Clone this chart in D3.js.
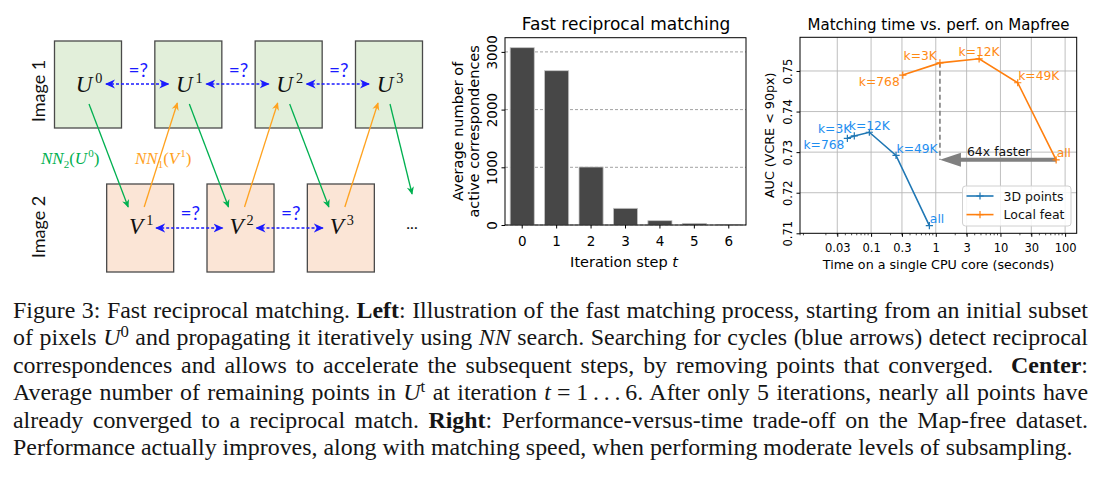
<!DOCTYPE html>
<html>
<head>
<meta charset="utf-8">
<script src="https://cdn.jsdelivr.net/npm/d3@7"></script>
<style>
  body { margin: 0; background: #fff; }
  #wrap { position: relative; width: 1100px; height: 478px; overflow: hidden; }
  #wrap svg { position: absolute; left: 0; top: 0; }
  #caption { position: absolute; left: 13px; top: 297px; width: 1075px; color: #151515;
             font-family: "Liberation Serif", "Times New Roman", serif; line-height: 27.4px; }
  #caption div { text-align: justify; text-align-last: justify; white-space: normal; }
  #caption div.last { text-align-last: left; }
  #caption sup { font-size: 0.7em; line-height: 0; vertical-align: 0.5em; }
</style>
</head>
<body>
<div id="wrap"></div>
<script>
// ---------- data ----------
var topSup = ["0", "1", "2", "3"];          // U^0 .. U^3
var botSup = ["1", "2", "3"];               // V^1 .. V^3

var iterSteps = [0, 1, 2, 3, 4, 5, 6];
var activeCorr = [3073, 2674, 1005, 289, 75, 28, 6];
var barYTicks = [0, 1000, 2000, 3000];

var seriesNames = ["3D points", "Local feat"];
var kLabels = ["k=768", "k=3K", "k=12K", "k=49K", "all"];
var time3D = [0.043, 0.055, 0.094, 0.243, 0.796];
var auc3D = [0.7334, 0.7340, 0.7349, 0.7292, 0.7119];
var timeLocal = [0.309, 1.16, 4.68, 18.5, 72.6];
var aucLocal = [0.7490, 0.7520, 0.7530, 0.7471, 0.7281];
var timeTicks = [0.03, 0.1, 0.3, 1, 3, 10, 30, 100];
var timeTickLabels = ["0.03", "0.1", "0.3", "1", "3", "10", "30", "100"];
var aucTicks = [0.71, 0.72, 0.73, 0.74, 0.75];

var captionLines = [
  'Figure 3: Fast reciprocal matching. <b>Left</b>: Illustration of the fast matching process, starting from an initial subset',
  'of pixels <i>U</i><sup>0</sup> and propagating it iteratively using <i>NN</i> search. Searching for cycles (blue arrows) detect reciprocal',
  'correspondences and allows to accelerate the subsequent steps, by removing points that converged.&nbsp; <b>Center</b>:',
  'Average number of remaining points in <i>U</i><sup>t</sup> at iteration <i>t</i>&#8197;=&#8197;1&#8201;.&#8201;.&#8201;.&#8201;6. After only 5 iterations, nearly all points have',
  'already converged to a reciprocal match. <b>Right</b>: Performance-versus-time trade-off on the Map-free dataset.',
  'Performance actually improves, along with matching speed, when performing moderate levels of subsampling.'
];

// ---------- setup ----------
var FONT = '"DejaVu Sans", sans-serif';
var MATH = '"Liberation Serif", "DejaVu Serif", serif';
var svg = d3.select('#wrap').append('svg').attr('width', 1100).attr('height', 478);
var defs = svg.append('defs');

function arrowMarker(id, color, w, h) {
  defs.append('marker')
    .attr('id', id)
    .attr('viewBox', '0 0 10 10')
    .attr('refX', 9).attr('refY', 5)
    .attr('markerWidth', w).attr('markerHeight', h)
    .attr('markerUnits', 'userSpaceOnUse')
    .attr('orient', 'auto-start-reverse')
    .append('path')
    .attr('d', 'M0,0.5 L10,5 L0,9.5 L3,5 z')
    .attr('fill', color);
}
var BLUE = '#1a1aff', GREEN = '#00b050', ORANGE = '#ffa21f';
arrowMarker('mBlue', BLUE, 10, 10);
arrowMarker('mGreen', GREEN, 10, 8);
arrowMarker('mOrange', ORANGE, 10, 8);

// ---------- left: diagram ----------
var colX = d3.scaleLinear().domain([0, 3]).range([88, 389]);
var BOT_SHIFT = 0.52;
var boxW = 67;
var rowTop = {y: 41, h: 87}, rowBot = {y: 184, h: 88};
var diag = svg.append('g');

diag.selectAll('rect.top').data(topSup).join('rect')
  .attr('class', 'top')
  .attr('x', function(d, i) { return colX(i) - boxW / 2; })
  .attr('y', rowTop.y).attr('width', boxW).attr('height', rowTop.h)
  .attr('fill', '#e2efda').attr('stroke', '#4a4a4a').attr('stroke-width', 1.3);

diag.selectAll('rect.bot').data(botSup).join('rect')
  .attr('class', 'bot')
  .attr('x', function(d, i) { return colX(i + BOT_SHIFT) - boxW / 2; })
  .attr('y', rowBot.y).attr('width', boxW).attr('height', rowBot.h)
  .attr('fill', '#fbe5d6').attr('stroke', '#4a4a4a').attr('stroke-width', 1.3);

function mathLabel(g, x, y, base, sup, size, color) {
  var t = g.append('text').attr('x', x).attr('y', y)
    .attr('text-anchor', 'middle').attr('font-family', MATH).attr('fill', color);
  t.append('tspan').attr('font-style', 'italic').attr('font-size', size).text(base);
  t.append('tspan').attr('dx', 3).attr('dy', -size * 0.38).attr('font-size', size * 0.62).text(sup);
}
topSup.forEach(function(s, i) { mathLabel(diag, colX(i) + 1, 92, 'U', s, 23, '#111'); });
botSup.forEach(function(s, i) { mathLabel(diag, colX(i + BOT_SHIFT) + 1, 234, 'V', s, 23, '#111'); });

// blue "=?" cycles
var topPairs = d3.range(topSup.length - 1);
var botPairs = d3.range(botSup.length - 1);
var cyc = diag.append('g');
cyc.selectAll('line.ct').data(topPairs).join('line')
  .attr('class', 'ct')
  .attr('x1', function(i) { return colX(i) + 18; })
  .attr('x2', function(i) { return colX(i + 1) - 20; })
  .attr('y1', 84).attr('y2', 84);
cyc.selectAll('line.cb').data(botPairs).join('line')
  .attr('class', 'cb')
  .attr('x1', function(i) { return colX(i + BOT_SHIFT) + 16; })
  .attr('x2', function(i) { return colX(i + 1 + BOT_SHIFT) - 18; })
  .attr('y1', 228).attr('y2', 228);
cyc.selectAll('line')
  .attr('stroke', BLUE).attr('stroke-width', 1.6).attr('stroke-dasharray', '3,2')
  .attr('marker-start', 'url(#mBlue)').attr('marker-end', 'url(#mBlue)');

cyc.selectAll('text.eqt').data(topPairs).join('text')
  .attr('class', 'eqt')
  .attr('x', function(i) { return (colX(i) + colX(i + 1)) / 2; }).attr('y', 77);
cyc.selectAll('text.eqb').data(botPairs).join('text')
  .attr('class', 'eqb')
  .attr('x', function(i) { return (colX(i + BOT_SHIFT) + colX(i + 1 + BOT_SHIFT)) / 2; }).attr('y', 220);
cyc.selectAll('text')
  .attr('text-anchor', 'middle').attr('font-family', 'Lato, "Open Sans", sans-serif')
  .attr('font-size', 19).attr('fill', BLUE).text('=?');

// nearest-neighbour arrows
var nnG = diag.append('g');
topSup.forEach(function(s, i) {
  var x2 = i < botSup.length ? colX(i + BOT_SHIFT) - 12 : colX(i + 0.23);
  var y2 = i < botSup.length ? 207 : 194;
  nnG.append('line').attr('x1', colX(i) + 1).attr('y1', 104).attr('x2', x2).attr('y2', y2)
    .attr('stroke', GREEN).attr('stroke-width', 1.3).attr('marker-end', 'url(#mGreen)');
});
botSup.forEach(function(s, i) {
  nnG.append('line').attr('x1', colX(i + BOT_SHIFT) + 4).attr('y1', 207)
    .attr('x2', colX(i + 1) - 11).attr('y2', 103)
    .attr('stroke', ORANGE).attr('stroke-width', 1.3).attr('marker-end', 'url(#mOrange)');
});

function nnLabel(x, color, sub, base, sup) {
  var t = diag.append('text').attr('x', x).attr('y', 164)
    .attr('font-family', MATH).attr('font-size', 17).attr('fill', color);
  t.append('tspan').attr('font-style', 'italic').text('NN');
  t.append('tspan').attr('dy', 4).attr('font-size', 11).text(sub);
  t.append('tspan').attr('dy', -4).text('(');
  t.append('tspan').attr('font-style', 'italic').text(base);
  t.append('tspan').attr('dx', 1).attr('dy', -7).attr('font-size', 11).text(sup);
  t.append('tspan').attr('dy', 7).text(')');
}
nnLabel(41, GREEN, '2', 'U', '0');
nnLabel(135, ORANGE, '1', 'V', '1');

diag.append('text').attr('x', 412).attr('y', 229).attr('text-anchor', 'middle')
  .attr('font-family', 'Lato, sans-serif').attr('font-size', 16).attr('fill', '#111').text('...');

[['Image 1', 91], ['Image 2', 227]].forEach(function(p) {
  diag.append('text').attr('transform', 'translate(38,' + p[1] + ') rotate(-90)')
    .attr('text-anchor', 'middle').attr('dominant-baseline', 'central')
    .attr('font-family', 'Lato, "Open Sans", sans-serif').attr('font-size', 18)
    .attr('fill', '#111').text(p[0]);
});

// ---------- center: bar chart ----------
var bar = {l: 505, r: 746, t: 37.7, b: 225};
var xBar = d3.scaleBand().domain(iterSteps).range([bar.l, bar.r]).paddingInner(0.3).paddingOuter(0.15);
var yBar = d3.scaleLinear().domain([0, 3246]).range([bar.b, bar.t]);
var gBar = svg.append('g');

gBar.selectAll('line.grid').data(barYTicks).join('line')
  .attr('class', 'grid')
  .attr('x1', bar.l).attr('x2', bar.r)
  .attr('y1', function(d) { return yBar(d); }).attr('y2', function(d) { return yBar(d); })
  .attr('stroke', '#8a8a8a').attr('stroke-width', 0.8).attr('stroke-dasharray', '3,2');

gBar.selectAll('rect.bar').data(iterSteps).join('rect')
  .attr('class', 'bar')
  .attr('x', function(d) { return xBar(d); })
  .attr('width', xBar.bandwidth())
  .attr('y', function(d, i) { return yBar(activeCorr[i]); })
  .attr('height', function(d, i) { return yBar(0) - yBar(activeCorr[i]); })
  .attr('fill', '#474747').attr('stroke', '#c4c4c4').attr('stroke-width', 0.8);

var axBotBar = gBar.append('g').attr('transform', 'translate(0,' + bar.b + ')')
  .call(d3.axisBottom(xBar).tickSize(3.5).tickSizeOuter(0))
  .attr('font-family', FONT).attr('font-size', 13.5);
axBotBar.select('.domain').remove();
axBotBar.selectAll('text').attr('y', 11.5);

var axLeftBar = gBar.append('g').attr('transform', 'translate(' + bar.l + ',0)')
  .call(d3.axisLeft(yBar).tickValues(barYTicks).tickSize(3.5).tickFormat(d3.format('d')))
  .attr('font-family', FONT).attr('font-size', 13.5);
axLeftBar.select('.domain').remove();
axLeftBar.selectAll('text').attr('x', 0).attr('dy', 0)
  .attr('transform', 'translate(-8.5,0) rotate(-90)').attr('text-anchor', 'middle');

gBar.append('rect').attr('x', bar.l).attr('y', bar.t)
  .attr('width', bar.r - bar.l).attr('height', bar.b - bar.t)
  .attr('fill', 'none').attr('stroke', '#000').attr('stroke-width', 1);

gBar.append('text').attr('x', 626).attr('y', 29.5).attr('text-anchor', 'middle')
  .attr('font-family', FONT).attr('font-size', 17).text('Fast reciprocal matching');
var xl = gBar.append('text').attr('x', 624).attr('y', 266.5).attr('text-anchor', 'middle')
  .attr('font-family', FONT).attr('font-size', 14.5);
xl.append('tspan').text('Iteration step ');
xl.append('tspan').attr('font-style', 'oblique').text('t');
[['Average number of', 462.5], ['active correspondences', 479]].forEach(function(p) {
  gBar.append('text').attr('transform', 'translate(' + p[1] + ',' + ((bar.t + bar.b) / 2) + ') rotate(-90)')
    .attr('text-anchor', 'middle').attr('font-family', FONT).attr('font-size', 14.5).text(p[0]);
});

// ---------- right: time vs perf ----------
var rc = {l: 800, r: 1076.7, t: 37.3, b: 233.3};
var xR = d3.scaleLog().domain([0.00796, 151]).range([rc.l, rc.r]);
var yR = d3.scaleLinear().domain([0.71, 0.7583]).range([rc.b, rc.t]);
var gR = svg.append('g');

gR.selectAll('line.vg').data(timeTicks).join('line')
  .attr('x1', function(d) { return xR(d); }).attr('x2', function(d) { return xR(d); })
  .attr('y1', rc.t).attr('y2', rc.b)
  .attr('stroke', '#b8b8b8').attr('stroke-width', 0.9);
gR.selectAll('line.hg').data(aucTicks.slice(1)).join('line')
  .attr('x1', rc.l).attr('x2', rc.r)
  .attr('y1', function(d) { return yR(d); }).attr('y2', function(d) { return yR(d); })
  .attr('stroke', '#b8b8b8').attr('stroke-width', 0.9);

// speed-up annotation
var xFast = xR(timeLocal[1]), xSlow = xR(timeLocal[4]), yAll = yR(aucLocal[4]);
gR.append('line').attr('x1', xFast).attr('x2', xFast).attr('y1', yR(aucLocal[1])).attr('y2', yAll)
  .attr('stroke', '#7f7f7f').attr('stroke-width', 1.6).attr('stroke-dasharray', '5,3');
gR.append('path')
  .attr('d', 'M' + xSlow + ',' + (yAll - 2) + 'H' + (xFast + 21) + 'V' + (yAll - 7) +
             'L' + xFast + ',' + yAll + 'L' + (xFast + 21) + ',' + (yAll + 7) +
             'V' + (yAll + 2) + 'H' + xSlow + 'Z')
  .attr('fill', '#808080');
gR.append('text').attr('x', xFast + 27).attr('y', yAll - 3.5)
  .attr('font-family', FONT).attr('font-size', 12.5).attr('fill', '#111').text('64x faster');

var series = [
  {name: seriesNames[0], t: time3D, a: auc3D, color: '#1f77b4', text: '#1e8ef0'},
  {name: seriesNames[1], t: timeLocal, a: aucLocal, color: '#ff7f0e', text: '#ff8a14'}
];
var labelAnchor = ['end', 'end', 'middle', 'start', 'start'];
var labelAbove = [false, true, true, true, true];
var plus = 'M-3.6,0H3.6M0,-3.6V3.6';

var line = d3.line().x(function(d) { return xR(d[0]); }).y(function(d) { return yR(d[1]); });
series.forEach(function(s) {
  var pts = s.t.map(function(t, i) { return [t, s.a[i]]; });
  gR.append('path').attr('d', line(pts)).attr('fill', 'none')
    .attr('stroke', s.color).attr('stroke-width', 1.6);
  gR.selectAll(null).data(pts).join('path')
    .attr('transform', function(d) { return 'translate(' + xR(d[0]) + ',' + yR(d[1]) + ')'; })
    .attr('d', plus).attr('stroke', s.color).attr('stroke-width', 1.2);
  gR.selectAll(null).data(pts).join('text')
    .attr('x', function(d, i) {
      return xR(d[0]) + (labelAnchor[i] === 'start' ? 0.5 : labelAnchor[i] === 'end' ? -3 : 0);
    })
    .attr('y', function(d, i) { return yR(d[1]) + (labelAbove[i] ? -2.5 : 11); })
    .attr('text-anchor', function(d, i) { return labelAnchor[i]; })
    .attr('font-family', FONT).attr('font-size', 12.3).attr('fill', s.text)
    .text(function(d, i) { return kLabels[i]; });
});

// axes
var minorTicks = [];
d3.range(-3, 3).forEach(function(e) {
  d3.range(2, 10).forEach(function(k) {
    var v = k * Math.pow(10, e);
    if (v > xR.domain()[0] && v < xR.domain()[1]) minorTicks.push(v);
  });
});
gR.selectAll('line.minor').data(minorTicks).join('line')
  .attr('x1', function(d) { return xR(d); }).attr('x2', function(d) { return xR(d); })
  .attr('y1', rc.b).attr('y2', rc.b + 2).attr('stroke', '#000').attr('stroke-width', 0.7);

var axBotR = gR.append('g').attr('transform', 'translate(0,' + rc.b + ')')
  .call(d3.axisBottom(xR).tickValues(timeTicks).tickSize(3.5)
    .tickFormat(function(d, i) { return timeTickLabels[i]; }))
  .attr('font-family', FONT).attr('font-size', 11.5);
axBotR.select('.domain').remove();
axBotR.selectAll('text').attr('y', 10.3);

var axLeftR = gR.append('g').attr('transform', 'translate(' + rc.l + ',0)')
  .call(d3.axisLeft(yR).tickValues(aucTicks).tickSize(3.5).tickFormat(d3.format('.2f')))
  .attr('font-family', FONT).attr('font-size', 11.5);
axLeftR.select('.domain').remove();
axLeftR.selectAll('text').attr('x', 0).attr('dy', 0)
  .attr('transform', 'translate(-8.5,0) rotate(-90)').attr('text-anchor', 'middle');

gR.append('rect').attr('x', rc.l).attr('y', rc.t)
  .attr('width', rc.r - rc.l).attr('height', rc.b - rc.t)
  .attr('fill', 'none').attr('stroke', '#000').attr('stroke-width', 1);

gR.append('text').attr('x', 938.5).attr('y', 29.5).attr('text-anchor', 'middle')
  .attr('font-family', FONT).attr('font-size', 15).text('Matching time vs. perf. on Mapfree');
gR.append('text').attr('x', 938.5).attr('y', 269).attr('text-anchor', 'middle')
  .attr('font-family', FONT).attr('font-size', 12.7).text('Time on a single CPU core (seconds)');
gR.append('text').attr('transform', 'translate(773.5,' + ((rc.t + rc.b) / 2) + ') rotate(-90)')
  .attr('text-anchor', 'middle').attr('font-family', FONT).attr('font-size', 12.7)
  .text('AUC (VCRE < 90px)');

// legend
var lg = gR.append('g').attr('transform', 'translate(962.5,186)');
lg.append('rect').attr('width', 108.5).attr('height', 40).attr('rx', 3)
  .attr('fill', '#fff').attr('fill-opacity', 0.85).attr('stroke', '#d0d0d0').attr('stroke-width', 1);
series.forEach(function(s, i) {
  var y = 10 + i * 18.6;
  lg.append('line').attr('x1', 4).attr('x2', 31).attr('y1', y).attr('y2', y)
    .attr('stroke', s.color).attr('stroke-width', 1.6);
  lg.append('path').attr('transform', 'translate(17.5,' + y + ')').attr('d', plus)
    .attr('stroke', s.color).attr('stroke-width', 1.2);
  lg.append('text').attr('x', 41).attr('y', y + 4.5).attr('font-family', FONT)
    .attr('font-size', 12.5).attr('fill', '#111').text(s.name);
});

// ---------- caption ----------
var CAP_FONT = '"Liberation Serif", "Times New Roman", serif';
function natWidth(html, size) {
  var s = d3.select('body').append('span')
    .style('position', 'absolute').style('visibility', 'hidden').style('white-space', 'nowrap')
    .style('font-family', CAP_FONT).style('font-size', size + 'px').html(html);
  var w = s.node().getBoundingClientRect().width;
  s.remove();
  return w;
}
var capSize = 20 * 1060 / natWidth(captionLines[captionLines.length - 1], 20);
captionLines.slice(0, -1).forEach(function(l) {
  var w = natWidth(l, capSize);
  if (w > 1070) capSize = capSize * 1070 / w;
});
d3.select('#wrap').append('div').attr('id', 'caption').style('font-size', capSize + 'px')
  .selectAll('div').data(captionLines).join('div')
  .attr('class', function(d, i) { return i === captionLines.length - 1 ? 'last' : null; })
  .html(function(d) { return d; });
</script>
</body>
</html>
